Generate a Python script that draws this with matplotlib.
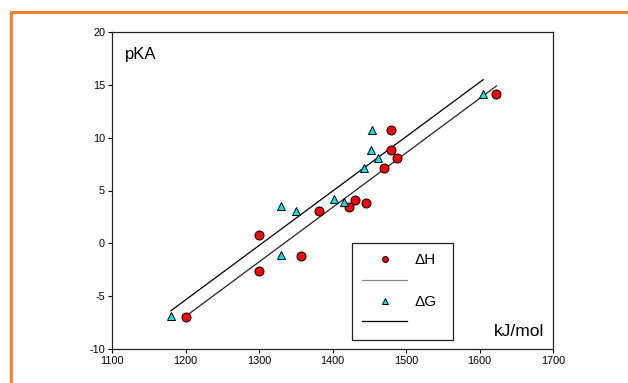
import numpy as np
import matplotlib.pyplot as plt
from matplotlib.patches import Rectangle

plt.rcParams['font.family'] = ['Liberation Sans', 'DejaVu Sans']
plt.rcParams['axes.unicode_minus'] = False

# data
dh_x = [1200, 1300, 1300, 1357, 1381, 1423, 1430, 1445, 1470, 1479, 1480, 1488, 1623]
dh_y = [-7.0, 0.8, -2.6, -1.2, 3.1, 3.4, 4.1, 3.8, 7.1, 8.8, 10.7, 8.1, 14.1]
dg_x = [1180, 1330, 1330, 1350, 1402, 1415, 1443, 1452, 1454, 1462, 1605]
dg_y = [-6.9, 3.5, -1.1, 3.1, 4.2, 3.9, 7.1, 8.8, 10.7, 8.1, 14.1]
x_ticks = [1100, 1200, 1300, 1400, 1500, 1600, 1700]
y_ticks = [-10, -5, 0, 5, 10, 15, 20]

fig = plt.figure(figsize=(6.28, 3.83), dpi=100)
fig.patches.append(Rectangle((11 / 628, -0.2), 1.5, 1.2 - 11.5 / 383,
                             transform=fig.transFigure, fill=False,
                             edgecolor='#FF7F27', linewidth=2.2))
ax = fig.add_axes([112 / 628, 1 - 349 / 383, 441 / 628, 317 / 383])


def fit_line(x, y):
    k, b = np.polyfit(x, y, 1)
    xs = np.array([min(x), max(x)])
    return xs, k * xs + b


h_pts, = ax.plot(dh_x, dh_y, 'o', color='#FF0000', mec='black', mew=0.7,
                 ms=6.5, zorder=3)
hx, hy = fit_line(dh_x, dh_y)
h_line, = ax.plot(hx, hy, color='#222222', lw=0.9)
g_pts, = ax.plot(dg_x, dg_y, '^', color='#00E5E5', mec='black', mew=0.7,
                 ms=6, zorder=3)
gx, gy = fit_line(dg_x, dg_y)
g_line, = ax.plot(gx, gy, color='black', lw=0.9)

ax.set_xlim(1100, 1700)
ax.set_ylim(-10, 20)
ax.set_xticks(x_ticks)
ax.set_yticks(y_ticks)
ax.tick_params(direction='out', length=3, width=0.8, labelsize=7.8, pad=2)
for s in ax.spines.values():
    s.set_linewidth(0.9)
    s.set_color('#222222')

ax.text(0.029, 0.93, 'pKA', transform=ax.transAxes, fontsize=12,
        va='center', ha='left')
ax.text(0.98, 0.03, 'kJ/mol', transform=ax.transAxes, fontsize=12.5,
        va='bottom', ha='right')

leg = ax.legend([h_pts, h_line, g_pts, g_line], ['ΔH', '', 'ΔG', ''],
                loc='lower left', bbox_to_anchor=(0.544, 0.028, 0.229, 0.3),
                mode='expand', borderaxespad=0, fontsize=11,
                handlelength=2.95, handletextpad=0.45, labelspacing=0.45,
                borderpad=0.68, markerscale=0.65, fancybox=False,
                framealpha=1)
leg.get_frame().set_edgecolor('#222222')
leg.get_frame().set_linewidth(0.9)
leg.get_lines()[1].set_color('#888888')

fig.savefig('out.png', dpi=100)
